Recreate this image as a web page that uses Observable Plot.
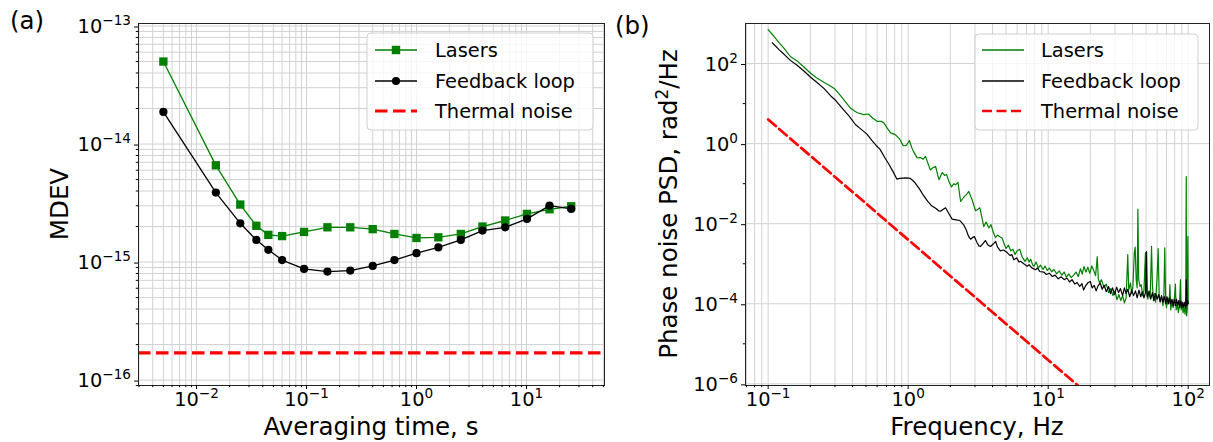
<!DOCTYPE html>
<html><head><meta charset="utf-8">
<script src="https://cdn.jsdelivr.net/npm/d3@7"></script>
<script src="https://cdn.jsdelivr.net/npm/@observablehq/plot@0.6"></script>
<style>
html,body{margin:0;padding:0;background:#fff;}
#wrap{position:relative;width:1213px;height:442px;overflow:hidden;background:#fff;}
#wrap svg{position:absolute;top:0;}
</style></head><body><div id="wrap"></div>
<script>
// ---------------- Panel (a): MDEV ----------------
const tau = [0.005,0.015,0.025,0.035,0.045,0.06,0.095,0.155,0.25,0.4,0.63,1.0,1.58,2.53,3.98,6.4,10.1,16.2,25.5];
const mdevLasers = [5.0e-14,6.6e-15,3.07e-15,2.03e-15,1.70e-15,1.66e-15,1.80e-15,1.97e-15,1.97e-15,1.90e-15,1.73e-15,1.60e-15,1.62e-15,1.73e-15,2.0e-15,2.25e-15,2.56e-15,2.80e-15,2.97e-15];
const mdevFeedback = [1.87e-14,3.88e-15,2.13e-15,1.54e-15,1.27e-15,1.04e-15,8.75e-16,8.3e-16,8.47e-16,9.28e-16,1.04e-15,1.19e-15,1.33e-15,1.54e-15,1.85e-15,1.97e-15,2.32e-15,3.01e-15,2.82e-15];
const mdevThermal = 1.7e-16;

const aXTicks = [0.01,0.1,1,10];
const aXTickLabels = ["10^\u22122","10^\u22121","10^0","10^1"];
const aYTicks = [1e-16,1e-15,1e-14,1e-13];
const aYTickLabels = ["10^\u221216","10^\u221215","10^\u221214","10^\u221213"];

// ---------------- Panel (b): phase noise PSD ----------------
const freqLasers = [0.1,0.11,0.12,0.13,0.144,0.16,0.18,0.2,0.22,0.25,0.28,0.3,0.33,0.36,0.39,0.43,0.48,0.52,0.56,0.6,0.64,0.67,0.71,0.75,0.81,0.87,0.92,0.97,1.02,1.06,1.09,1.16,1.22,1.28,1.33,1.38,1.44,1.5,1.57,1.62,1.66,1.75,1.82,1.88,1.96,2.04,2.12,2.18,2.27,2.32,2.37,2.45,2.52,2.62,2.71,2.8,2.86,2.95,3.03,3.15,3.25,3.35,3.47,3.6,3.77,3.9,4.05,4.2,4.35,4.5,4.69,4.85,5.0,5.2,5.4,5.6,5.8,6.0,6.27,6.5,6.82,7.1,7.3,7.5,7.7,7.9,8.2,8.5,8.8,9.2,9.5,9.84,10.2,10.6,11.0,11.5,12.0,12.5,13.0,13.5,14.0,14.6,15.2,15.8,16.4,17.0,17.5,18.0,18.6,19.2,19.8,20.5,21.2,21.8,22.4,22.8,23.3,24,25,26,27,28,29,30,31,32,33,34,35,36,37,37.6,38.7,39.5,40.3,41.2,41.8,42.5,43.2,43.7,44.3,45.2,46.2,47.2,48.3,49.5,50.5,51.5,52.5,53.5,54.7,55.5,56.5,57.5,58.5,60,61,62,63,64.5,66,67,68,69,70,71.5,73,74,75,76.5,78,79.5,81,82,83.5,85,86.5,88,89,90.5,92,93.5,95,96,96.8,97.3,98.4,99.4,100];
const psdLasers = [700,480,330,240,150,118,82,58,45,34,27,23,15.5,10.5,7.5,6.0,5.3,5.5,4.3,3.6,3.6,3.3,2.4,1.85,1.68,1.3,0.89,0.9,1.2,0.8,0.64,0.44,0.45,0.41,0.48,0.33,0.22,0.25,0.27,0.17,0.126,0.19,0.16,0.17,0.11,0.083,0.1,0.094,0.108,0.06,0.036,0.042,0.048,0.055,0.064,0.048,0.04,0.028,0.021,0.023,0.025,0.015,0.0085,0.011,0.0078,0.0095,0.0062,0.0045,0.0052,0.0047,0.0044,0.0031,0.0024,0.0029,0.0021,0.0023,0.0017,0.0021,0.0023,0.0015,0.00115,0.0014,0.0011,0.0013,0.00098,0.00086,0.0011,0.00078,0.00092,0.00072,0.00088,0.00068,0.00078,0.00063,0.00072,0.00056,0.00066,0.00052,0.00062,0.00046,0.00056,0.00045,0.00052,0.00062,0.00048,0.00075,0.00055,0.00085,0.00062,0.00082,0.00058,0.00088,0.00066,0.0005,0.0015,0.00042,0.00033,0.0004,0.00026,0.00031,0.00019,0.00024,0.00016,0.00021,0.000126,0.00017,0.00012,0.00016,0.000105,0.00014,0.0017,0.00022,0.00033,0.00018,0.00028,0.0019,0.0026,0.0004,0.00025,0.023,0.0004,0.00027,0.0003,0.00016,0.00022,0.0019,0.00018,0.00013,0.00021,0.00014,0.0027,0.0003,0.00012,0.00018,0.00011,0.0005,0.0024,0.00017,0.00012,0.00015,0.00009,0.00016,0.0025,0.00012,0.00008,0.00014,0.0001,0.0003,0.00007,0.00011,0.00008,0.00012,0.00031,0.00007,0.0001,0.00006,0.00009,0.0004,0.00007,0.00009,0.00006,0.00008,0.000055,0.00009,0.15,0.00005,0.00007,0.0048,0.0001];

const freqFeedback = [0.107,0.12,0.13,0.144,0.16,0.18,0.2,0.22,0.25,0.28,0.3,0.34,0.38,0.42,0.46,0.51,0.55,0.59,0.63,0.68,0.73,0.78,0.83,0.87,0.92,0.97,1.03,1.08,1.12,1.2,1.29,1.38,1.47,1.58,1.65,1.70,1.78,1.85,1.95,2.06,2.2,2.34,2.49,2.6,2.7,2.79,2.9,2.97,3.1,3.2,3.29,3.42,3.56,3.7,3.87,4.05,4.21,4.35,4.55,4.8,5.09,5.35,5.5,5.68,5.95,6.2,6.34,6.7,7.08,7.3,7.6,8.1,8.4,8.7,9.3,9.7,10.2,10.7,11.2,11.8,12.4,13.0,13.6,14.2,14.8,15.5,16.1,16.8,17.4,17.9,18.6,19.3,20.0,20.6,21.3,22.0,22.7,23.5,24.3,25.1,26.0,27.0,27.9,28.8,29.8,30.8,31.8,32.8,34,35,36,37,38.2,39.5,40.7,42,43.2,44.5,45.8,47,48.3,49.5,50.4,51,52.5,54,55.5,57,58.5,60,61.5,63,64.5,66,67.5,69,70.5,72,73.5,75,76.5,78,79.5,81,82.5,84,85.5,87,88.5,90,91.5,93,94.5,96,97,98,99,100];
const psdFeedback = [330,220,170,120,92,65,46,35,24,15.5,12.5,7.5,4.8,3.0,2.3,1.7,1.2,0.9,0.72,0.45,0.3,0.2,0.13,0.135,0.138,0.14,0.136,0.12,0.105,0.075,0.05,0.036,0.028,0.024,0.021,0.0205,0.023,0.025,0.018,0.013,0.0125,0.012,0.0094,0.007,0.0048,0.0041,0.0046,0.0048,0.0034,0.0028,0.0027,0.0032,0.0038,0.003,0.0027,0.0031,0.0036,0.0026,0.0021,0.0022,0.0019,0.0016,0.0017,0.00126,0.0014,0.0011,0.00115,0.001,0.00086,0.00095,0.0008,0.00071,0.00078,0.00064,0.00062,0.00054,0.00058,0.00048,0.00052,0.00042,0.00047,0.0004,0.00044,0.00035,0.0004,0.00031,0.00034,0.00027,0.00032,0.00022,0.00029,0.00034,0.00036,0.00025,0.00029,0.00021,0.00028,0.00033,0.00023,0.00029,0.0002,0.00027,0.00018,0.00025,0.00017,0.00026,0.00019,0.00024,0.00016,0.00025,0.00018,0.00023,0.00015,0.00022,0.00016,0.00021,0.00014,0.00022,0.00015,0.0002,0.00014,0.00019,0.002,0.00015,0.0002,0.00013,0.00019,0.00012,0.00018,0.00013,0.00017,0.00011,0.00016,0.00011,0.00015,0.0001,0.00015,0.0001,0.00014,0.0001,0.00013,0.00009,0.00013,0.00009,0.00013,0.00009,0.00012,0.00008,0.00012,0.00008,0.00011,0.00008,0.00011,0.00008,0.0004,0.00009,0.00012,0.0001];

const freqThermal = [0.1,16.3];
const psdThermal = [4,9.1e-7];

const bXTicks = [0.1,1,10,100];
const bXTickLabels = ["10^\u22121","10^0","10^1","10^2"];
const bYTicks = [1e-6,1e-4,1e-2,1,100];
const bYTickLabels = ["10^\u22126","10^\u22124","10^\u22122","10^0","10^2"];

const seriesNames = ["Lasers","Feedback loop","Thermal noise"];

// ---------------- helpers ----------------
const GREEN = "#008000", BLACK = "#000000", RED = "#ff0000", GRID = "#d2d2d2";
const FONT = "DejaVu Sans, Liberation Sans, sans-serif";
function minorTicks(lo, hi) {
  const out = [];
  for (let e = Math.floor(Math.log10(lo)) - 1; e <= Math.ceil(Math.log10(hi)); e++)
    for (let k = 2; k <= 9; k++) { const v = k * Math.pow(10, e); if (v >= lo && v <= hi) out.push(v); }
  return out;
}
function labeler(vals, labels) {
  return d => { const i = vals.findIndex(v => Math.abs(Math.log10(v) - Math.log10(d)) < 1e-6); return i >= 0 ? labels[i] : ""; };
}
function supify(svg) {
  d3.select(svg).selectAll("text").each(function () {
    const t = this.textContent;
    if (!t || !t.trim()) { this.remove(); return; }
    if (!t.includes("^")) return;
    const [base, exp] = t.split("^");
    const s = d3.select(this);
    s.text(null);
    s.append("tspan").text(base);
    s.append("tspan").attr("font-size", "13.6px").attr("dy", "-8").text(exp);
  });
}
function legend(svg, x, y, w, h, rows, lineX0, lineX1, textX) {
  const g = d3.select(svg).append("g").attr("font-family", FONT).attr("font-size", "19.4px").attr("text-anchor", "start");
  g.append("rect").attr("x", x).attr("y", y).attr("width", w).attr("height", h).attr("rx", 4)
    .attr("fill", "#fff").attr("fill-opacity", 0.8).attr("stroke", "#d0d0d0").attr("stroke-width", 1);
  rows.forEach(r => {
    const line = g.append("line").attr("x1", lineX0).attr("x2", lineX1).attr("y1", r.y).attr("y2", r.y)
      .attr("stroke", r.color).attr("stroke-width", r.width);
    if (r.dash) line.attr("stroke-dasharray", r.dash);
    const cx = (lineX0 + lineX1) / 2;
    if (r.marker === "square") g.append("rect").attr("x", cx - 4.2).attr("y", r.y - 4.2).attr("width", 8.4).attr("height", 8.4).attr("fill", r.color);
    if (r.marker === "circle") g.append("circle").attr("cx", cx).attr("cy", r.y).attr("r", 4.1).attr("fill", r.color);
    g.append("text").attr("x", textX).attr("y", r.y).attr("dy", "0.37em").attr("text-anchor", "start").attr("fill", "#000").text(r.label);
  });
}
function addText(svg, txt, x, y, opts = {}) {
  const t = d3.select(svg).append("text").attr("font-family", FONT).attr("font-size", opts.size || "24.5px")
    .attr("fill", "#000").attr("text-anchor", opts.anchor || "middle");
  if (opts.rotate) t.attr("transform", `translate(${x},${y}) rotate(-90)`);
  else t.attr("x", x).attr("y", y);
  if (opts.html) t.html(opts.html); else t.text(txt);
  return t;
}

const wrap = document.getElementById("wrap");

// ---------------- build panel (a) ----------------
const rowsLasersA = tau.map((t, i) => ({t, v: mdevLasers[i]}));
const rowsFeedbackA = tau.map((t, i) => ({t, v: mdevFeedback[i]}));
const aXDom = [0.00297, 51.2], aYDom = [9.0e-17, 1.05e-13];
const aXMinor = minorTicks(aXDom[0], aXDom[1]);
const aYMinor = minorTicks(aYDom[0], aYDom[1]);

const svgA = Plot.plot({
  width: 606, height: 442,
  marginLeft: 138, marginRight: 2, marginTop: 23, marginBottom: 57,
  style: {fontFamily: FONT, fontSize: "19.4px", color: "#000", background: "transparent", overflow: "visible"},
  x: {type: "log", domain: aXDom},
  y: {type: "log", domain: aYDom},
  marks: [
    Plot.gridX(aXMinor, {stroke: GRID, strokeOpacity: 1, strokeWidth: 1}),
    Plot.gridX(aXTicks, {stroke: GRID, strokeOpacity: 1, strokeWidth: 1}),
    Plot.gridY(aYMinor, {stroke: GRID, strokeOpacity: 1, strokeWidth: 1}),
    Plot.gridY(aYTicks, {stroke: GRID, strokeOpacity: 1, strokeWidth: 1}),
    Plot.line(rowsLasersA, {x: "t", y: "v", stroke: GREEN, strokeWidth: 1.3}),
    Plot.dot(rowsLasersA, {x: "t", y: "v", symbol: "square", r: 4.7, fill: GREEN, stroke: null}),
    Plot.line(rowsFeedbackA, {x: "t", y: "v", stroke: BLACK, strokeWidth: 1.3}),
    Plot.dot(rowsFeedbackA, {x: "t", y: "v", symbol: "circle", r: 4.1, fill: BLACK, stroke: null}),
    Plot.ruleY([mdevThermal], {stroke: RED, strokeWidth: 3.2, strokeDasharray: "12.5,5.5"}),
    Plot.frame({stroke: "#222", strokeWidth: 1}),
    Plot.axisX(aXTicks, {tickSize: 4, tickPadding: 3, tickFormat: labeler(aXTicks, aXTickLabels), label: null, dy: 0}),
    Plot.axisX(aXMinor, {tickSize: 2.2, tickFormat: () => "", label: null}),
    Plot.axisY(aYTicks, {tickSize: 4, tickPadding: 3.5, tickFormat: labeler(aYTicks, aYTickLabels), label: null, dy: 1}),
    Plot.axisY(aYMinor, {tickSize: 2.2, tickFormat: () => "", label: null})
  ]
});
supify(svgA);
svgA.style.left = "0px";
legend(svgA, 367, 33, 226, 97, [
  {y: 50, color: GREEN, width: 1.3, marker: "square", label: seriesNames[0]},
  {y: 81, color: BLACK, width: 1.3, marker: "circle", label: seriesNames[1]},
  {y: 111, color: RED, width: 3.2, dash: "12.5,5.5", label: seriesNames[2]}
], 375, 417, 435);
addText(svgA, "Averaging time, s", 371, 435);
addText(svgA, "MDEV", 68, 204, {rotate: true});
addText(svgA, "(a)", 10, 29, {anchor: "start"});
wrap.appendChild(svgA);

// ---------------- build panel (b) ----------------
const rowsLasersB = freqLasers.map((f, i) => ({f, p: psdLasers[i]}));
const rowsFeedbackB = freqFeedback.map((f, i) => ({f, p: psdFeedback[i]}));
const rowsThermalB = freqThermal.map((f, i) => ({f, p: psdThermal[i]}));
const bXDom = [0.0689, 141.9], bYDom = [9.1e-7, 1e3];
const bXMinor = minorTicks(bXDom[0], bXDom[1]);
const bYMinor = [1e-5, 1e-3, 1e-1, 10];

const svgB = Plot.plot({
  width: 607, height: 442,
  marginLeft: 139, marginRight: 4, marginTop: 23, marginBottom: 57,
  style: {fontFamily: FONT, fontSize: "19.4px", color: "#000", background: "transparent", overflow: "visible"},
  x: {type: "log", domain: bXDom},
  y: {type: "log", domain: bYDom},
  marks: [
    Plot.gridX(bXMinor, {stroke: GRID, strokeOpacity: 1, strokeWidth: 1}),
    Plot.gridX(bXTicks, {stroke: GRID, strokeOpacity: 1, strokeWidth: 1}),
    Plot.gridY(bYTicks, {stroke: GRID, strokeOpacity: 1, strokeWidth: 1}),
    Plot.line(rowsLasersB, {x: "f", y: "p", stroke: GREEN, strokeWidth: 1.2}),
    Plot.line(rowsFeedbackB, {x: "f", y: "p", stroke: BLACK, strokeWidth: 1.2}),
    Plot.line(rowsThermalB, {x: "f", y: "p", stroke: RED, strokeWidth: 2.7, strokeDasharray: "10,4.5", clip: true}),
    Plot.frame({stroke: "#222", strokeWidth: 1}),
    Plot.axisX(bXTicks, {tickSize: 4, tickPadding: 3, tickFormat: labeler(bXTicks, bXTickLabels), label: null, dy: 0}),
    Plot.axisX(bXMinor, {tickSize: 2.2, tickFormat: () => "", label: null}),
    Plot.axisY(bYTicks, {tickSize: 4, tickPadding: 3.5, tickFormat: labeler(bYTicks, bYTickLabels), label: null, dy: 1}),
    Plot.axisY(bYMinor, {tickSize: 2.2, tickFormat: () => "", label: null})
  ]
});
supify(svgB);
svgB.style.left = "606px";
legend(svgB, 369, 34, 223, 96, [
  {y: 50, color: GREEN, width: 1.3, label: seriesNames[0]},
  {y: 81, color: BLACK, width: 1.3, label: seriesNames[1]},
  {y: 111, color: RED, width: 2.7, dash: "10,4.5", label: seriesNames[2]}
], 376, 418, 435);
addText(svgB, "Frequency, Hz", 371, 435);
addText(svgB, "", 71, 204, {rotate: true, html: "Phase noise PSD, rad<tspan font-size='17px' dy='-9'>2</tspan><tspan dy='9'>/Hz</tspan>"});
addText(svgB, "(b)", 9, 34, {anchor: "start"});
wrap.appendChild(svgB);
</script>
</body></html>
